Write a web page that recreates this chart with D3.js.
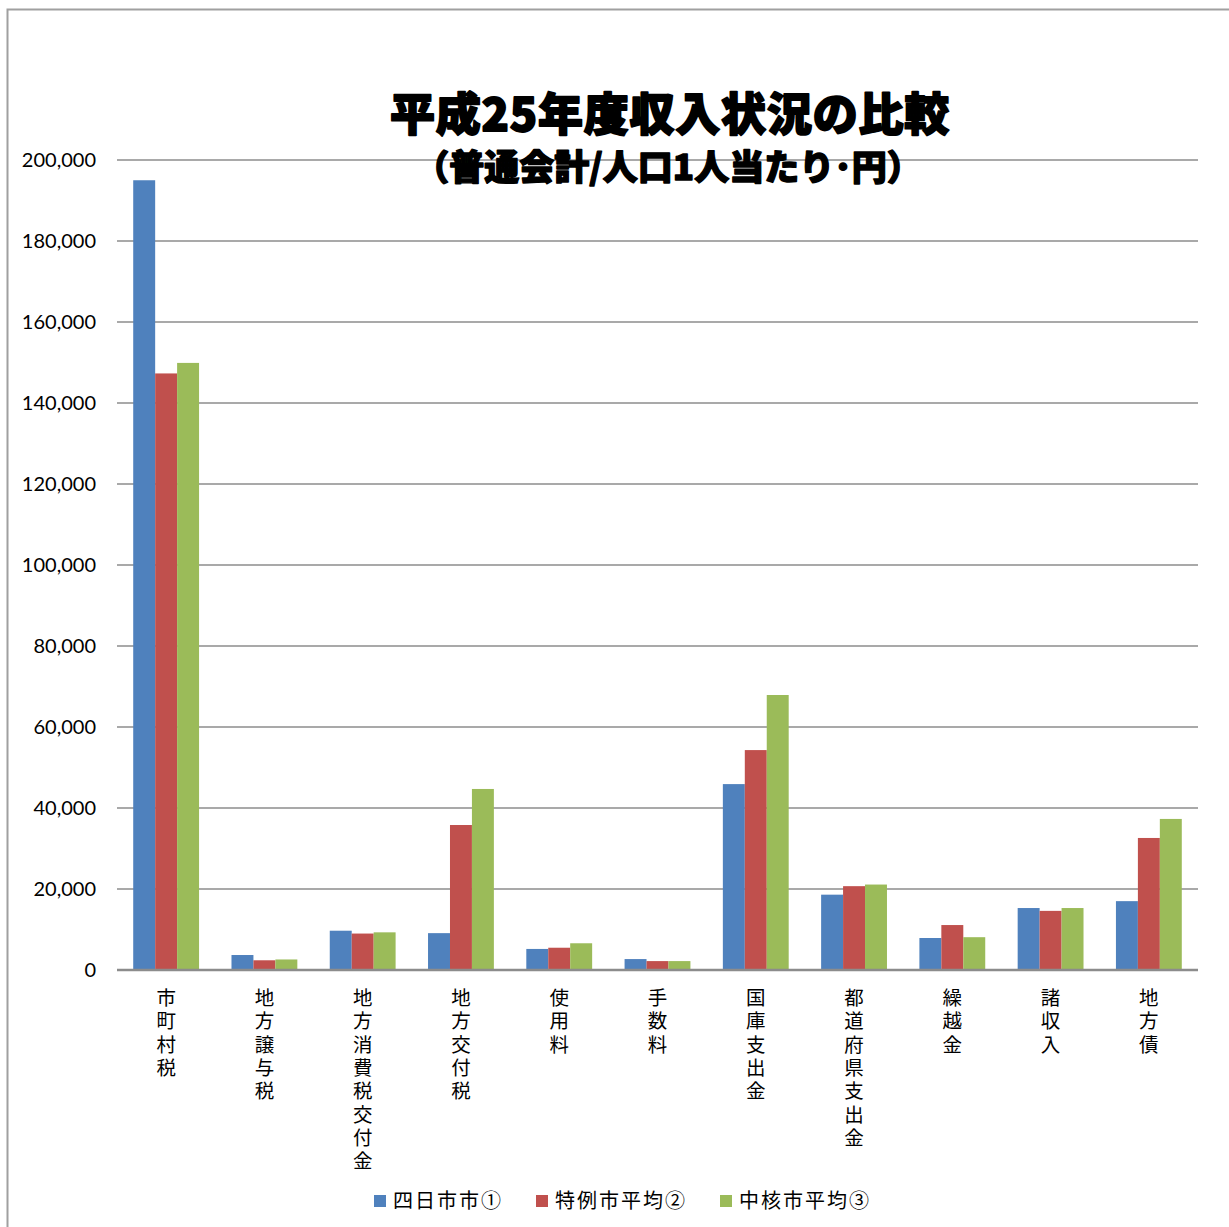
<!DOCTYPE html>
<html><head><meta charset="utf-8">
<script src="https://cdn.jsdelivr.net/npm/d3@7/dist/d3.min.js"></script>
<style>body{margin:0;background:#fff}svg{display:block}</style>
</head><body>
<script>
const categories = ["市町村税","地方譲与税","地方消費税交付金","地方交付税","使用料","手数料","国庫支出金","都道府県支出金","繰越金","諸収入","地方債"];
const seriesNames = ["四日市市①","特例市平均②","中核市平均③"];
const yokkaichi = [195000,3700,9700,9100,5200,2700,45900,18600,7900,15300,17000];
const tokureiAvg = [147300,2400,9000,35800,5500,2200,54300,20700,11100,14600,32600];
const chukakuAvg = [149900,2600,9300,44700,6600,2200,67900,21100,8100,15300,37300];
const yTicks = [0,20000,40000,60000,80000,100000,120000,140000,160000,180000,200000];
const colors = ["#4f81bd","#c0504d","#9bbb59"];
const titleLines = ["平成25年度収入状況の比較","（普通会計/人口1人当たり･円）"];

const W=1229,H=1227;
const svg=d3.select("body").append("svg").attr("width",W).attr("height",H);
// frame
svg.append("path").attr("d",`M7.5,${H} L7.5,9.5 L${W},9.5`).attr("fill","none").attr("stroke","#a0a0a0").attr("stroke-width",2);

const x0=d3.scaleBand().domain(categories).range([117,1198]).paddingInner(0.33).paddingOuter(0.165);
const x1=d3.scaleBand().domain(seriesNames).range([0,x0.bandwidth()]);
const y=d3.scaleLinear().domain([0,200000]).range([970,160]);

// gridlines
svg.append("g").selectAll("line").data(yTicks.filter(d=>d>0)).join("line")
 .attr("x1",117).attr("x2",1198).attr("y1",d=>y(d)).attr("y2",d=>y(d))
 .attr("stroke","#8c8c8c").attr("stroke-width",1.3);

// y labels
const fmt=d3.format(",");
svg.append("g").selectAll("text").data(yTicks).join("text")
 .attr("x",96).attr("y",d=>y(d)).attr("dy","0.35em").attr("text-anchor","end")
 .attr("font-family","Lato, 'Open Sans', sans-serif").attr("font-size",20).attr("fill","#000")
 .text(d=>fmt(d));

// bars
const series=[yokkaichi,tokureiAvg,chukakuAvg];
series.forEach((vals,si)=>{
  svg.append("g").selectAll("rect").data(vals).join("rect")
   .attr("x",(d,i)=>x0(categories[i])+x1(seriesNames[si]))
   .attr("width",x1.bandwidth())
   .attr("y",d=>y(d)).attr("height",d=>y(0)-y(d))
   .attr("fill",colors[si]);
});

// baseline axis
svg.append("line").attr("x1",117).attr("x2",1198).attr("y1",y(0)).attr("y2",y(0)).attr("stroke","#8c8c8c").attr("stroke-width",2.5);

// x labels vertical
svg.append("g").selectAll("text").data(categories).join("text")
 .attr("x",c=>x0(c)+x0.bandwidth()/2).attr("y",988)
 .style("writing-mode","vertical-rl")
 .attr("font-family","'Noto Sans CJK JP', sans-serif").attr("font-size",19.5)
 .attr("letter-spacing",3.8).attr("fill","#000").text(c=>c);

// title
svg.append("text").attr("x",670).attr("y",131).attr("text-anchor","middle")
 .attr("font-family","'Noto Sans CJK JP', sans-serif").attr("font-weight",900).attr("font-size",45)
 .attr("stroke","#000").attr("stroke-width",1.8).attr("stroke-linejoin","round")
 .attr("letter-spacing",0.8)
 .text(titleLines[0]);
svg.append("text").attr("x",668).attr("y",180).attr("text-anchor","middle")
 .attr("font-family","'Noto Sans CJK JP', sans-serif").attr("font-weight",900).attr("font-size",35)
 .attr("stroke","#000").attr("stroke-width",1.4).attr("stroke-linejoin","round")
 .text(titleLines[1]);

// legend
const legX=[374,536,720];
seriesNames.forEach((n,i)=>{
  svg.append("rect").attr("x",legX[i]).attr("y",1195).attr("width",12).attr("height",12).attr("fill",colors[i]);
  svg.append("text").attr("x",legX[i]+19).attr("y",1201).attr("dy","0.36em")
   .attr("font-family","'Noto Sans CJK JP', sans-serif").attr("font-size",20).attr("fill","#000")
   .attr("letter-spacing",2).text(n);
});
</script>
</body></html>
